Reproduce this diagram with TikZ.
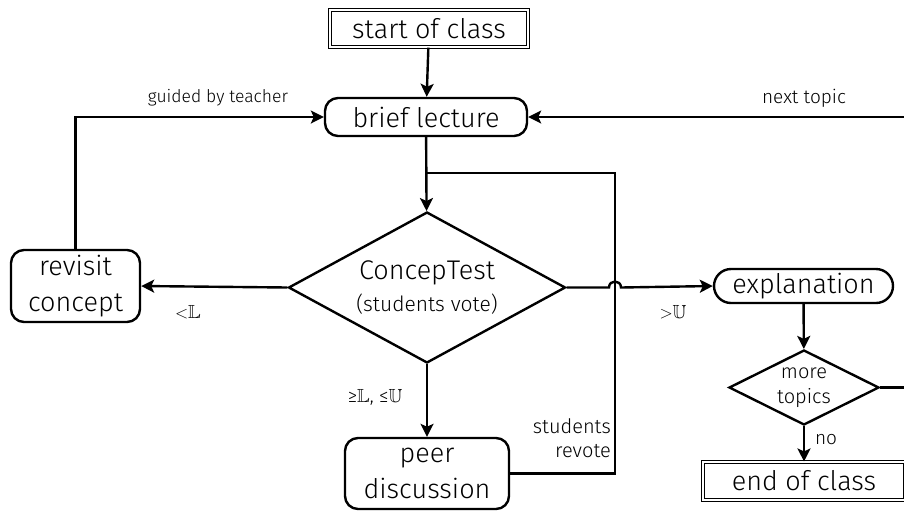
\documentclass[tikz,border=0pt]{standalone}
\usepackage{amssymb}
\usepackage{fontspec}
\setmainfont{Fira Sans Light}
\usetikzlibrary{shapes.geometric,arrows.meta,calc}

\tikzset{
  flow/.style={line width=2.4pt, line join=miter},
  arr/.style={flow, -{Stealth[length=13pt,width=13pt,inset=3pt]}},
  termbox/.style={draw, double, line width=1.1pt, double distance=2.2pt,
    minimum width=198pt, minimum height=37pt, inner sep=0pt,
    font=\fontsize{27}{32}\selectfont},
  stepbox/.style={draw, line width=2.4pt, rounded corners=13pt, inner sep=0pt,
    align=center, font=\fontsize{27}{36}\selectfont},
  choice/.style={draw, diamond, line width=2.4pt, inner sep=0pt, align=center},
  lbl/.style={inner sep=0pt, font=\fontsize{19}{24}\selectfont},
}

\begin{document}
\begin{tikzpicture}[x=1pt,y=-1pt]
  \useasboundingbox (0,0) rectangle (904,512);
  \clip (0,0) rectangle (904,512);

  % nodes
  \node[termbox] (start) at (429,28.5) {start of class};
  \node[stepbox, minimum width=202pt, minimum height=38pt] (lecture) at (426,117) {brief lecture};
  \node[choice, minimum width=277pt, minimum height=151pt, aspect=1.83] (test) at (427,287.5)
    {\fontsize{27}{38}\selectfont ConcepTest\\[8pt]\fontsize{21}{24}\selectfont (students vote)};
  \node[stepbox, minimum width=129pt, minimum height=72pt] (revisit) at (75.5,286) {revisit\\concept};
  \node[stepbox, minimum width=164pt, minimum height=71pt] (peer) at (427,473.5) {peer\\discussion};
  \node[stepbox, rounded corners=17pt, minimum width=179pt, minimum height=34pt] (explain) at (803.5,286) {explanation};
  \node[choice, minimum width=150pt, minimum height=75pt, aspect=2,
        font=\fontsize{20}{25}\selectfont] (more) at (804,387.5) {more\\topics};
  \node[termbox, minimum width=202pt, minimum height=38pt] (finish) at (804,481) {end of class};

  % helper points for the loops
  \coordinate (revote) at (615,173);
  \coordinate (merge) at (427,173);
  \coordinate (hopL) at (609,287.5);
  \coordinate (hopR) at (621,287.5);
  \coordinate (outer) at (940,387.5);

  % connectors
  \draw[arr] (start) -- (lecture);
  \draw[arr] (lecture) -- (test);
  \draw[flow] (peer.east) -| (revote) -- (merge);
  \draw[arr] (test.west) -- (revisit.east);
  \draw[arr] (revisit.north) |- (lecture.west);
  \draw[arr] (test.east) -- (hopL) .. controls ($(hopL)+(0,-8)$) and ($(hopR)+(0,-8)$) .. (hopR) -- (explain.west);
  \draw[arr] (test.south) -- (peer.north);
  \draw[arr] (explain) -- (more);
  \draw[arr] (more) -- (finish);
  \draw[arr] (more.east) -- (outer) |- (lecture.east);

  % labels
  \node[lbl, font=\fontsize{17.5}{22}\selectfont] (lguided) at (218,98) {guided by teacher};
  \node[lbl] (lnext) at (804,98) {next topic};
  \node[lbl] (llow) at (188,312) {${<}\mathbb{L}$};
  \node[lbl] (lhigh) at (673,312) {${>}\mathbb{U}$};
  \node[lbl] (lmid) at (375,397) {≥$\mathbb{L}$, ≤$\mathbb{U}$};
  \node[lbl, anchor=east, align=right, font=\fontsize{20}{24}\selectfont] (lrevote) at (611,438) {students\\revote};
  \node[lbl] (lno) at (826,440) {no};
\end{tikzpicture}
\end{document}
